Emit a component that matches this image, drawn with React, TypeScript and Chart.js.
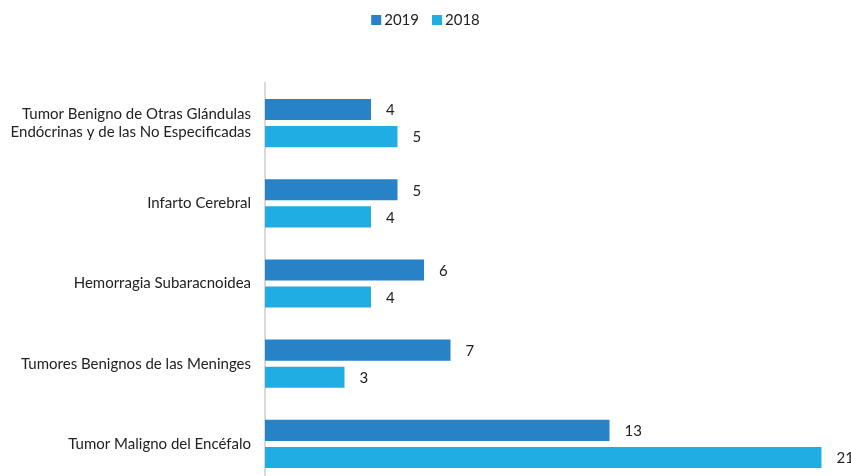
import React, { useEffect, useRef } from "react";
import { Chart, registerables } from "chart.js";

Chart.register(...registerables);

const categories: (string | string[])[] = [
  ["Tumor Benigno de Otras Glándulas", "Endócrinas y de las No Especificadas"],
  "Infarto Cerebral",
  "Hemorragia Subaracnoidea",
  "Tumores Benignos de las Meninges",
  "Tumor Maligno del Encéfalo",
];
const values2019 = [4, 5, 6, 7, 13];
const values2018 = [5, 4, 4, 3, 21];
const seriesNames = ["2019", "2018"];
const seriesColors = ["#2882C8", "#1FADE4"];

const FONT = "Lato, 'Open Sans', sans-serif";

const valueLabels = {
  id: "valueLabels",
  afterDatasetsDraw(chart: any) {
    const ctx = chart.ctx;
    ctx.save();
    ctx.font = `15px ${FONT}`;
    ctx.fillStyle = "#222";
    ctx.textAlign = "left";
    ctx.textBaseline = "middle";
    chart.data.datasets.forEach((ds: any, i: number) => {
      const meta = chart.getDatasetMeta(i);
      meta.data.forEach((bar: any, j: number) => {
        ctx.fillText(String(ds.data[j]), bar.x + 15, bar.y + 1);
      });
    });
    ctx.restore();
  },
};

const customLegend = {
  id: "customLegend",
  afterDraw(chart: any) {
    const ctx = chart.ctx;
    ctx.save();
    ctx.font = `15px ${FONT}`;
    ctx.textBaseline = "middle";
    ctx.textAlign = "left";
    const box = 10;
    const gapText = 3;
    const gapItem = 13;
    const items = chart.data.datasets.map((ds: any) => ({
      label: ds.label,
      color: ds.backgroundColor,
      w: box + gapText + ctx.measureText(ds.label).width,
    }));
    const total =
      items.reduce((s: number, it: any) => s + it.w, 0) + gapItem * (items.length - 1);
    let x = chart.width / 2 - total / 2;
    const cy = 20;
    items.forEach((it: any) => {
      ctx.fillStyle = it.color;
      ctx.fillRect(x, cy - 5, box, box);
      ctx.fillStyle = "#222";
      ctx.fillText(it.label, x + box + gapText, cy);
      x += it.w + gapItem;
    });
    ctx.restore();
  },
};

export default function App() {
  const ref = useRef<HTMLCanvasElement>(null);
  useEffect(() => {
    document.body.style.margin = "0";
    document.body.style.overflow = "hidden";
    const chart = new Chart(ref.current!, {
      type: "bar",
      data: {
        labels: categories,
        datasets: [
          {
            label: seriesNames[0],
            data: values2019,
            backgroundColor: seriesColors[0],
            barPercentage: 0.78,
            categoryPercentage: 0.675,
          },
          {
            label: seriesNames[1],
            data: values2018,
            backgroundColor: seriesColors[1],
            barPercentage: 0.78,
            categoryPercentage: 0.675,
          },
        ],
      },
      options: {
        indexAxis: "y",
        animation: false,
        responsive: false,
        layout: { padding: { top: 83, right: 3, bottom: 0, left: 0 } },
        plugins: {
          legend: { display: false },
          tooltip: { enabled: false },
        },
        scales: {
          x: {
            display: false,
            min: 0,
            max: 22,
          },
          y: {
            grid: { display: false, drawTicks: false },
            border: { display: true, color: "#d9d9d9", width: 2 },
            ticks: {
              color: "#222",
              padding: 14,
              font: { family: FONT, size: 15 },
            },
            afterFit(scale: any) {
              scale.width = 265;
              scale.paddingTop = 0;
              scale.paddingBottom = 0;
            },
          },
        },
      },
      plugins: [valueLabels, customLegend],
    });
    return () => chart.destroy();
  }, []);
  return (
    <div style={{ position: "absolute", left: 0, top: 0, width: 851, height: 484 }}>
      <canvas ref={ref} width={851} height={484} />
    </div>
  );
}
